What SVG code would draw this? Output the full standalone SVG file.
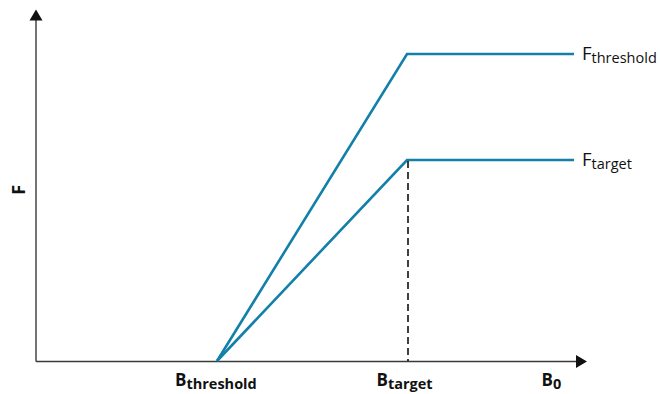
<svg xmlns="http://www.w3.org/2000/svg" width="660" height="394" viewBox="0 0 660 394">
<style>
.axis{stroke:#3a3a3a;stroke-width:1.4;fill:none}
.curve{stroke:#1280a8;stroke-width:2.6;fill:none;stroke-linejoin:miter}
.dash{stroke:#000;stroke-width:1.5;stroke-dasharray:7 4;fill:none}
.lbl{font-family:"Open Sans","Noto Sans","Liberation Sans",sans-serif;fill:#111}
.sub{font-size:14.5px}
</style>
<rect width="660" height="394" fill="#fff"/>
<g id="axes">
<line class="axis" x1="36" y1="361.5" x2="577" y2="361.5"/>
<polygon points="587,361.5 576,355 576,368" fill="#111"/>
<line class="axis" x1="36" y1="361.5" x2="36" y2="20"/>
<polygon points="36,9.5 29.5,20.5 42.5,20.5" fill="#111"/>
</g>
<g id="connectors">
<polyline id="f-threshold-line" class="curve" points="217,361 407,54 574,54"/>
<polyline id="f-target-line" class="curve" points="217,361 407,160 574,160"/>
<line id="b-target-dash" class="dash" x1="408" y1="161" x2="408" y2="361"/>
</g>
<g id="label-F-threshold"><text class="lbl" x="582" y="59.5" font-size="18.5">F<tspan class="sub" dy="3">threshold</tspan></text></g>
<g id="label-F-target"><text class="lbl" x="582" y="166" font-size="18.5">F<tspan class="sub" dy="3">target</tspan></text></g>
<g id="label-F-axis"><text class="lbl" font-weight="bold" font-size="18.5" text-anchor="middle" transform="translate(24.5,190) rotate(-90)">F</text></g>
<g id="label-B-threshold"><text class="lbl" font-weight="bold" x="175" y="386" font-size="17">B<tspan class="sub" dy="3">threshold</tspan></text></g>
<g id="label-B-target"><text class="lbl" font-weight="bold" x="376.5" y="386" font-size="17">B<tspan class="sub" dy="3">target</tspan></text></g>
<g id="label-B0"><text class="lbl" font-weight="bold" x="541.5" y="386" font-size="17">B<tspan class="sub" dy="3">0</tspan></text></g>
</svg>
